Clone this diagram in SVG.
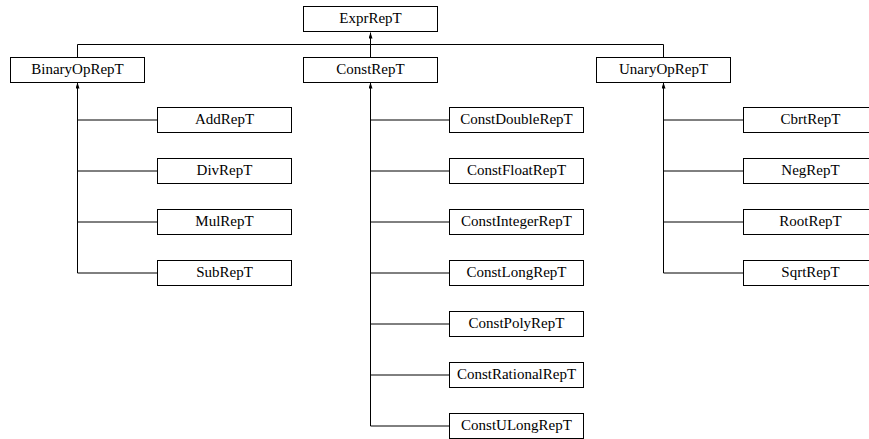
<svg xmlns="http://www.w3.org/2000/svg" width="869" height="439" viewBox="0 0 869 439">
<defs>
<style>
.box{fill:#fff;stroke:#000;stroke-width:1}
.lbl{font-family:"Liberation Serif","Times New Roman",serif;font-size:15px;fill:#000;text-anchor:middle}
.ln{fill:none;stroke:#000;stroke-width:1}
</style>
<marker id="ah" markerUnits="userSpaceOnUse" markerWidth="6" markerHeight="4" refX="6" refY="2" orient="auto">
<path d="M0,0 L6,2 L0,4 z" fill="#000"/>
</marker>
</defs>
<rect width="869" height="439" fill="#fff"/>
<g id="connectors">
<path class="ln" d="M77.5,57.5 V44.5 H663.5 V57.5"/>
<path class="ln" d="M370.5,57.5 V32.5" marker-end="url(#ah)"/>
<path class="ln" d="M77.5,273 V82.5" marker-end="url(#ah)"/>
<path class="ln" d="M77.5,120 H157.5 M77.5,171 H157.5 M77.5,222 H157.5 M77.5,273 H157.5"/>
<path class="ln" d="M370.5,426 V82.5" marker-end="url(#ah)"/>
<path class="ln" d="M370.5,120 H449.5 M370.5,171 H449.5 M370.5,222 H449.5 M370.5,273 H449.5 M370.5,324 H449.5 M370.5,375 H449.5 M370.5,426 H449.5"/>
<path class="ln" d="M663.5,273 V82.5" marker-end="url(#ah)"/>
<path class="ln" d="M663.5,120 H743.5 M663.5,171 H743.5 M663.5,222 H743.5 M663.5,273 H743.5"/>
</g>
<g id="ExprRepT"><rect class="box" x="303.5" y="6.5" width="134" height="25"/><text class="lbl" x="370.5" y="23">ExprRepT</text></g>
<g id="BinaryOpRepT"><rect class="box" x="10.5" y="57.5" width="134" height="25"/><text class="lbl" x="77.5" y="74">BinaryOpRepT</text></g>
<g id="ConstRepT"><rect class="box" x="303.5" y="57.5" width="134" height="25"/><text class="lbl" x="370.5" y="74">ConstRepT</text></g>
<g id="UnaryOpRepT"><rect class="box" x="596.5" y="57.5" width="134" height="25"/><text class="lbl" x="663.5" y="74">UnaryOpRepT</text></g>
<g id="AddRepT"><rect class="box" x="157.5" y="107.5" width="134" height="25"/><text class="lbl" x="224.5" y="124">AddRepT</text></g>
<g id="DivRepT"><rect class="box" x="157.5" y="158.5" width="134" height="25"/><text class="lbl" x="224.5" y="175">DivRepT</text></g>
<g id="MulRepT"><rect class="box" x="157.5" y="209.5" width="134" height="25"/><text class="lbl" x="224.5" y="226">MulRepT</text></g>
<g id="SubRepT"><rect class="box" x="157.5" y="260.5" width="134" height="25"/><text class="lbl" x="224.5" y="277">SubRepT</text></g>
<g id="ConstDoubleRepT"><rect class="box" x="449.5" y="107.5" width="134" height="25"/><text class="lbl" x="516.5" y="124">ConstDoubleRepT</text></g>
<g id="ConstFloatRepT"><rect class="box" x="449.5" y="158.5" width="134" height="25"/><text class="lbl" x="516.5" y="175">ConstFloatRepT</text></g>
<g id="ConstIntegerRepT"><rect class="box" x="449.5" y="209.5" width="134" height="25"/><text class="lbl" x="516.5" y="226">ConstIntegerRepT</text></g>
<g id="ConstLongRepT"><rect class="box" x="449.5" y="260.5" width="134" height="25"/><text class="lbl" x="516.5" y="277">ConstLongRepT</text></g>
<g id="ConstPolyRepT"><rect class="box" x="449.5" y="311.5" width="134" height="25"/><text class="lbl" x="516.5" y="328">ConstPolyRepT</text></g>
<g id="ConstRationalRepT"><rect class="box" x="449.5" y="362.5" width="134" height="25"/><text class="lbl" x="516.5" y="379">ConstRationalRepT</text></g>
<g id="ConstULongRepT"><rect class="box" x="449.5" y="413.5" width="134" height="25"/><text class="lbl" x="516.5" y="430">ConstULongRepT</text></g>
<g id="CbrtRepT"><rect class="box" x="743.5" y="107.5" width="134" height="25"/><text class="lbl" x="810.5" y="124">CbrtRepT</text></g>
<g id="NegRepT"><rect class="box" x="743.5" y="158.5" width="134" height="25"/><text class="lbl" x="810.5" y="175">NegRepT</text></g>
<g id="RootRepT"><rect class="box" x="743.5" y="209.5" width="134" height="25"/><text class="lbl" x="810.5" y="226">RootRepT</text></g>
<g id="SqrtRepT"><rect class="box" x="743.5" y="260.5" width="134" height="25"/><text class="lbl" x="810.5" y="277">SqrtRepT</text></g>
</svg>
